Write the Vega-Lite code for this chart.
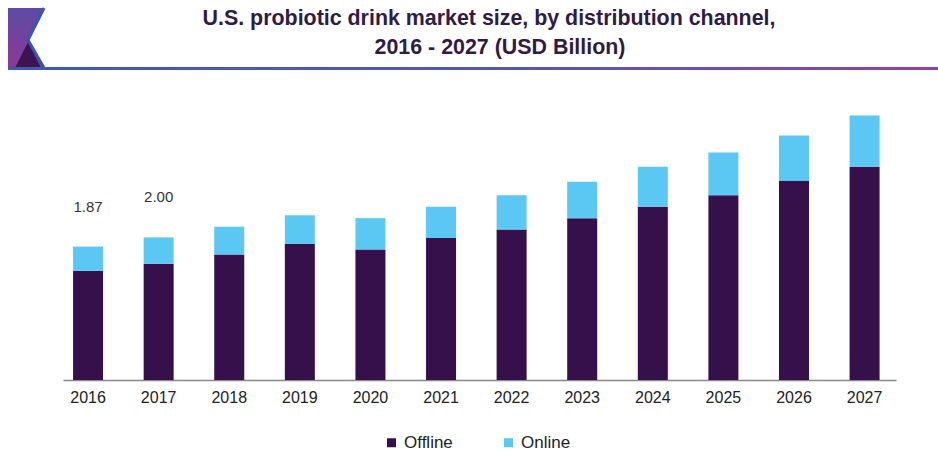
{
  "$schema": "https://vega.github.io/schema/vega-lite/v6.json",
  "padding": 0,
  "background": "white",
  "spacing": 0,
  "config": {"view": {"stroke": null}, "font": "Liberation Sans"},
  "vconcat": [
    {
      "width": 875,
      "height": 100,
      "layer": [
        {
          "data": {"values": [{"y": 8, "x": 8, "x2": 44}, {"y": 40, "x": 8, "x2": 28}, {"y": 68, "x": 8, "x2": 44}]},
          "mark": {"type": "area", "orient": "horizontal", "color": {"gradient": "linear", "x1": 0, "y1": 0, "x2": 0, "y2": 1, "stops": [{"offset": 0, "color": "#5d4aa5"}, {"offset": 1, "color": "#8b3a96"}]}},
          "encoding": {
            "y": {"field": "y", "type": "quantitative", "scale": {"domain": [100, 0], "nice": false, "zero": false}, "axis": null},
            "x": {"field": "x", "type": "quantitative", "scale": {"domain": [63, 938], "nice": false, "zero": false}, "axis": null},
            "x2": {"field": "x2"}
          }
        },
        {
          "data": {"values": [{"y": 42, "x": 28, "x2": 28}, {"y": 68, "x": 15, "x2": 41}]},
          "mark": {"type": "area", "orient": "horizontal", "color": "#3b1552"},
          "encoding": {
            "y": {"field": "y", "type": "quantitative"},
            "x": {"field": "x", "type": "quantitative"},
            "x2": {"field": "x2"}
          }
        },
        {
          "data": {"values": [{"x": 44, "y": 8, "o": 1}, {"x": 28, "y": 40, "o": 2}, {"x": 44, "y": 68, "o": 3}]},
          "mark": {"type": "line", "color": "#3755b3", "strokeWidth": 3},
          "encoding": {
            "x": {"field": "x", "type": "quantitative"},
            "y": {"field": "y", "type": "quantitative"},
            "order": {"field": "o"}
          }
        },
        {
          "data": {"values": [{"x": 8, "x2": 938, "y": 67, "y2": 70}]},
          "mark": {"type": "rect", "color": {"gradient": "linear", "x1": 0, "y1": 0, "x2": 1, "y2": 0, "stops": [{"offset": 0, "color": "#3f5aae"}, {"offset": 0.6, "color": "#5a55ae"}, {"offset": 1, "color": "#8e45a2"}]}},
          "encoding": {
            "x": {"field": "x", "type": "quantitative"},
            "x2": {"field": "x2"},
            "y": {"field": "y", "type": "quantitative"},
            "y2": {"field": "y2"}
          }
        },
        {
          "data": {"values": [
            {"x": 489, "y": 19, "t": "U.S. probiotic drink market size, by distribution channel,"},
            {"x": 500, "y": 48, "t": "2016 - 2027 (USD Billion)"}
          ]},
          "mark": {"type": "text", "font": "Liberation Sans", "fontWeight": "bold", "fontSize": 21.4, "color": "#2f1b45", "align": "center", "baseline": "middle"},
          "encoding": {
            "x": {"field": "x", "type": "quantitative"},
            "y": {"field": "y", "type": "quantitative"},
            "text": {"field": "t"}
          }
        }
      ]
    },
    {
      "width": 833,
      "height": 280,
      "data": {"values": [
        {"year": "2016", "channel": "Offline", "value": 1.53},
        {"year": "2016", "channel": "Online", "value": 0.34},
        {"year": "2017", "channel": "Offline", "value": 1.63},
        {"year": "2017", "channel": "Online", "value": 0.37},
        {"year": "2018", "channel": "Offline", "value": 1.76},
        {"year": "2018", "channel": "Online", "value": 0.39},
        {"year": "2019", "channel": "Offline", "value": 1.91},
        {"year": "2019", "channel": "Online", "value": 0.40},
        {"year": "2020", "channel": "Offline", "value": 1.83},
        {"year": "2020", "channel": "Online", "value": 0.44},
        {"year": "2021", "channel": "Offline", "value": 1.99},
        {"year": "2021", "channel": "Online", "value": 0.44},
        {"year": "2022", "channel": "Offline", "value": 2.11},
        {"year": "2022", "channel": "Online", "value": 0.48},
        {"year": "2023", "channel": "Offline", "value": 2.27},
        {"year": "2023", "channel": "Online", "value": 0.51},
        {"year": "2024", "channel": "Offline", "value": 2.43},
        {"year": "2024", "channel": "Online", "value": 0.56},
        {"year": "2025", "channel": "Offline", "value": 2.59},
        {"year": "2025", "channel": "Online", "value": 0.60},
        {"year": "2026", "channel": "Offline", "value": 2.79},
        {"year": "2026", "channel": "Online", "value": 0.64},
        {"year": "2027", "channel": "Offline", "value": 2.99},
        {"year": "2027", "channel": "Online", "value": 0.72}
      ]},
      "layer": [
        {
          "mark": {"type": "bar"},
          "encoding": {
            "x": {
              "field": "year", "type": "ordinal",
              "scale": {"paddingInner": 0.575, "paddingOuter": 0.1875, "align": 0.38},
              "axis": {"title": null, "labelAngle": 0, "ticks": false, "domainColor": "#888888", "domainWidth": 1.5, "labelFontSize": 16, "labelColor": "#222222", "labelFont": "Liberation Sans", "labelPadding": 9}
            },
            "y": {
              "field": "value", "type": "quantitative", "stack": "zero",
              "scale": {"domain": [0, 3.927], "nice": false},
              "axis": {"title": null, "labels": false, "ticks": false, "domain": false, "grid": false, "minExtent": 63, "maxExtent": 63}
            },
            "order": {"field": "channel", "sort": "ascending"},
            "color": {
              "field": "channel", "type": "nominal",
              "scale": {"domain": ["Offline", "Online"], "range": ["#36104a", "#5bc8f4"]},
              "legend": {"title": null, "orient": "none", "legendX": 320, "legendY": 434, "direction": "horizontal", "symbolType": "square", "symbolSize": 81, "labelFontSize": 17, "labelColor": "#222222", "labelFont": "Liberation Sans", "columnPadding": 47, "labelOffset": 4, "padding": 0}
            }
          }
        },
        {
          "data": {"values": [{"year": "2016", "total": 1.87, "label": "1.87"}, {"year": "2017", "total": 2.0, "label": "2.00"}]},
          "mark": {"type": "text", "dy": -40, "fontSize": 15, "color": "#333333", "font": "Liberation Sans", "baseline": "middle"},
          "encoding": {
            "x": {"field": "year", "type": "ordinal"},
            "y": {"field": "total", "type": "quantitative"},
            "text": {"field": "label"}
          }
        }
      ]
    }
  ]
}
